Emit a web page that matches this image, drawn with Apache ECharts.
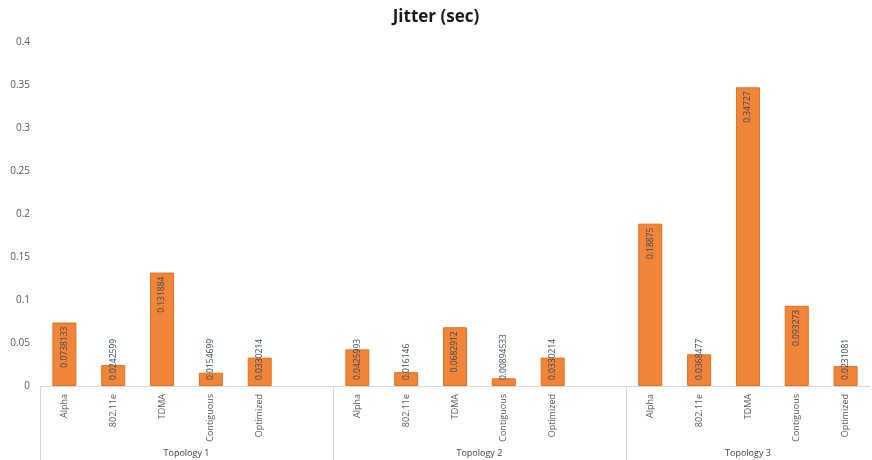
<!DOCTYPE html>
<html>
<head>
<meta charset="utf-8">
<script src="https://cdn.jsdelivr.net/npm/echarts@6/dist/echarts.min.js"></script>
<style>html,body{margin:0;padding:0;background:#fff}#c{width:872px;height:460px}</style>
</head>
<body>
<div id="c"></div>
<script>
var schemes = ['Alpha', '802.11e', 'TDMA', 'Contiguous', 'Optimized'];
var groups = ['Topology 1', 'Topology 2', 'Topology 3'];
var topology1 = [0.0738133, 0.0242599, 0.131884, 0.0154699, 0.0330214];
var topology2 = [0.0425993, 0.016146, 0.0682912, 0.00894533, 0.0330214];
var topology3 = [0.18875, 0.0368477, 0.34727, 0.093273, 0.0231081];
var yTicks = [0, 0.05, 0.1, 0.15, 0.2, 0.25, 0.3, 0.35, 0.4];

var groupValues = [topology1, topology2, topology3];
var categories = [], data = [], groupCenters = [], groupStarts = [];
var pos = 0;
groupValues.forEach(function (vals, gi) {
  var start = pos;
  groupStarts.push(start);
  vals.forEach(function (v, i) {
    categories.push(schemes[i]);
    var top = v >= 0.065;
    data.push({
      value: v,
      label: top ? {position: 'insideTop', align: 'right', distance: 4}
                 : {position: 'insideBottom', align: 'left', distance: 6}
    });
    pos++;
  });
  if (gi < groupValues.length - 1) { categories.push(''); data.push('-'); pos++; }
  groupCenters.push((start + pos) / 2);
});

var chart = echarts.init(document.getElementById('c'), null, {renderer: 'canvas'});
chart.setOption({
  animation: false,
  textStyle: {fontFamily: 'Open Sans'},
  title: {
    text: 'Jitter (sec)', left: 'center', top: 4,
    textStyle: {fontSize: 17, fontWeight: 'bold', color: '#1a1a1a', fontFamily: 'Open Sans'}
  },
  grid: {left: 40, right: 2, top: 42, bottom: 74, containLabel: false},
  xAxis: [{
    type: 'category', data: categories, position: 'bottom', offset: 0,
    axisLine: {lineStyle: {color: '#d9d9d9'}},
    axisTick: {show: false},
    axisLabel: {interval: 0, rotate: 90, fontSize: 9, color: '#595959', margin: 8}
  }, {
    type: 'value', min: 0, max: pos, position: 'bottom', offset: 0,
    axisLine: {show: false},
    splitLine: {show: false},
    axisTick: {show: true, customValues: groupStarts, length: 74, inside: false, lineStyle: {color: '#d9d9d9'}},
    axisLabel: {
      customValues: groupCenters, margin: 63, fontSize: 9, color: '#404040',
      formatter: function (v) { var i = groupCenters.indexOf(v); return i >= 0 ? groups[i] : ''; }
    }
  }],
  yAxis: {
    type: 'value', min: yTicks[0], max: yTicks[yTicks.length - 1], interval: yTicks[1] - yTicks[0],
    axisLine: {show: false}, axisTick: {show: false}, splitLine: {show: false},
    axisLabel: {fontSize: 10, color: '#595959', margin: 10}
  },
  series: [{
    type: 'bar', xAxisIndex: 0, data: data, barWidth: 24,
    itemStyle: {color: '#F0853A', borderColor: '#E2701F', borderWidth: 1},
    label: {show: true, rotate: 90, verticalAlign: 'middle', fontSize: 8.5, color: '#3b4a5a'}
  }]
});
</script>
</body>
</html>
